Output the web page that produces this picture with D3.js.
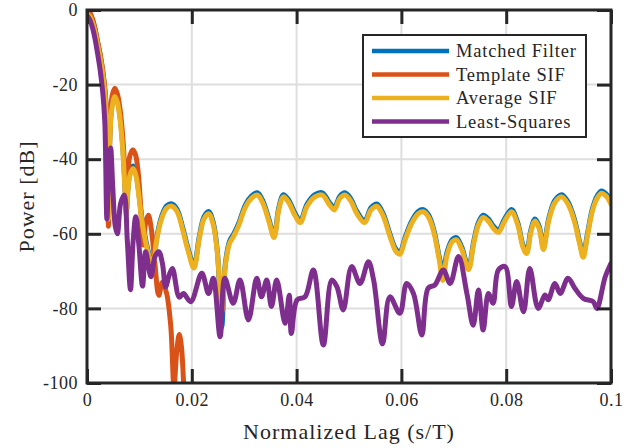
<!DOCTYPE html>
<html>
<head>
<meta charset="utf-8">
<script src="https://cdn.jsdelivr.net/npm/d3@7"></script>
<style>
  body { margin: 0; background: #fff; }
  text { font-family: "Liberation Serif", "Times New Roman", serif; fill: #262626; }
</style>
</head>
<body>
<svg id="chart" width="636" height="448"></svg>
<script>
// ======== Data ========
const seriesNames = ['Matched Filter', 'Template SIF', 'Average SIF', 'Least-Squares'];
const seriesColors = ['#0072BD', '#D95319', '#EDB120', '#7E2F8E'];

const xTicks = [0, 0.02, 0.04, 0.06, 0.08, 0.1];
const xTickLabels = ['0', '0.02', '0.04', '0.06', '0.08', '0.1'];
const yTicks = [-100, -80, -60, -40, -20, 0];
const yTickLabels = ['-100', '-80', '-60', '-40', '-20', '0'];

// lags shared by matched filter and average SIF
const lag = [0, 0.0005, 0.001, 0.0015, 0.002, 0.0025, 0.003, 0.0035, 0.0038, 0.0041,
  0.0044, 0.0048, 0.0053, 0.0058, 0.0063, 0.0068, 0.0072, 0.0075, 0.0078, 0.0082,
  0.0088, 0.0093, 0.0098, 0.0104, 0.0112, 0.012, 0.0126, 0.0133, 0.0142, 0.0152,
  0.0162, 0.0172, 0.0182, 0.0193, 0.0204, 0.0214, 0.0223, 0.0232, 0.0241, 0.0249,
  0.0257, 0.0264, 0.0272, 0.028, 0.029, 0.03, 0.031, 0.0325, 0.0335, 0.0347,
  0.0357, 0.0366, 0.0375, 0.0385, 0.0397, 0.0407, 0.042, 0.0435, 0.0449, 0.0462,
  0.0472, 0.0482, 0.0492, 0.0503, 0.0515, 0.053, 0.0542, 0.0553, 0.0565, 0.0578,
  0.0589, 0.0597, 0.0607, 0.062, 0.0632, 0.0642, 0.0652, 0.0662, 0.0672, 0.0679,
  0.0687, 0.0697, 0.0705, 0.0715, 0.0728, 0.0738, 0.0747, 0.0756, 0.0766, 0.0776,
  0.0785, 0.0797, 0.081, 0.0822, 0.0832, 0.0839, 0.0847, 0.0855, 0.0863, 0.0871,
  0.0881, 0.0893, 0.0906, 0.0918, 0.093, 0.094, 0.0947, 0.0955, 0.0965, 0.0975,
  0.0982, 0.0992, 0.1];

const matchedFilter = [0, -0.8, -2.5, -5, -8.5, -12, -16.5, -23, -32, -55,
  -32, -25, -22.5, -24, -28.5, -36, -46, -54, -48, -43.5,
  -41.8, -43.5, -48, -55, -61.5, -66, -67, -61, -55.5, -52.5,
  -52, -53.5, -58, -64, -68.5, -61, -55.5, -54, -57, -65,
  -85, -68, -62, -60, -57, -53, -50.5, -49, -51, -56,
  -60.5, -53, -49.5, -51, -54.5, -56.5, -52, -49.5, -49, -51.5,
  -53, -50, -49, -50.5, -54, -56.5, -53, -52, -54.5, -60,
  -64, -65, -61, -56.5, -54, -53.5, -55, -59, -66, -70,
  -65, -61.5, -61, -63.5, -69, -62, -57, -55, -56, -58,
  -59, -56, -53.5, -57, -63, -64.5, -59, -56, -58, -63.5,
  -56, -51, -49.5, -51.5, -56, -62, -65.5, -60, -53, -49.5,
  -48.5, -49.5, -51.5];

const averageSIF = [-1, -1.6, -3.2, -5.7, -9.2, -12.8, -17.3, -24, -33, -56,
  -33, -26, -23.2, -24.8, -29.3, -37, -47, -55, -49, -44.3,
  -42.5, -44.2, -48.7, -55.7, -62.2, -66.6, -67.5, -61.6, -56.1, -53.1,
  -52.6, -54.1, -58.6, -64.6, -69.2, -61.6, -56.1, -54.6, -57.6, -65.5,
  -81, -68.5, -62.6, -60.6, -57.6, -53.6, -51.1, -49.6, -51.6, -56.6,
  -61, -53.6, -50.1, -51.6, -55.1, -57, -52.6, -50.1, -49.6, -52.1,
  -53.6, -50.6, -49.6, -51.1, -54.6, -57, -53.6, -52.6, -55.1, -60.6,
  -64.6, -65.5, -61.6, -57.1, -54.6, -54.1, -55.6, -59.6, -66.8, -72.5,
  -65.8, -62.1, -61.6, -64.1, -69.6, -62.6, -57.6, -55.6, -56.6, -58.6,
  -59.6, -56.6, -54.1, -57.6, -63.6, -65.3, -59.6, -56.6, -58.6, -64.2,
  -56.6, -51.6, -50.1, -52.1, -56.6, -62.6, -66.3, -60.6, -53.6, -50.1,
  -49.1, -50.1, -52.1];

const templateLag = [0, 0.0005, 0.001, 0.0015, 0.002, 0.0025, 0.003, 0.0035, 0.0038, 0.0041,
  0.0044, 0.0048, 0.0053, 0.0058, 0.0063, 0.0068, 0.0072, 0.0075, 0.0078, 0.0082,
  0.0088, 0.0093, 0.0098, 0.0103, 0.0107, 0.0112, 0.0117, 0.0122, 0.0129, 0.0137,
  0.0144, 0.0152, 0.016, 0.0166, 0.0171, 0.0176, 0.018, 0.0185, 0.0189];
const templateSIF = [0, -0.6, -2.2, -4.8, -8.3, -11.8, -16.2, -22.5, -31, -58,
  -31, -23, -21, -22.5, -26.5, -33.5, -43, -54, -44, -39,
  -37.5, -39, -44, -54, -63, -57, -55, -58, -67, -76.5,
  -73, -76, -85, -101, -92, -87, -90, -102, -115];

const lsLag = [0, 0.0005, 0.001, 0.0015, 0.002, 0.0025, 0.003, 0.0034, 0.0038, 0.0042,
  0.0045, 0.0049, 0.0054, 0.0058, 0.0064, 0.0071, 0.0077, 0.0083, 0.0088, 0.0093,
  0.0099, 0.0106, 0.0112, 0.0122, 0.013, 0.0137, 0.0144, 0.015, 0.0157, 0.0163,
  0.0176, 0.0184, 0.0198, 0.0219, 0.0232, 0.0241, 0.0254, 0.0263, 0.0279, 0.0292,
  0.0308, 0.0324, 0.0333, 0.0343, 0.0352, 0.0362, 0.0378, 0.0386, 0.039, 0.0401,
  0.0416, 0.0432, 0.0451, 0.0467, 0.0477, 0.0489, 0.0505, 0.0521, 0.0537, 0.0547,
  0.0564, 0.0578, 0.0597, 0.061, 0.0623, 0.0639, 0.0651, 0.0664, 0.068, 0.0693,
  0.0709, 0.0725, 0.0737, 0.0747, 0.0756, 0.0766, 0.0775, 0.0785, 0.0798, 0.081,
  0.082, 0.0833, 0.0845, 0.0861, 0.0874, 0.088, 0.0893, 0.0903, 0.0918, 0.0931,
  0.0947, 0.0966, 0.0973, 0.0989, 0.1];
const leastSquares = [-1.5, -2.5, -4.5, -7.5, -11.5, -16, -22, -30, -56, -40,
  -37, -47, -58, -60, -52, -49.6, -62, -75, -62, -55.4,
  -63, -74, -64.8, -71.5, -66, -64.8, -68, -74.2, -71, -69.3,
  -77, -76, -78.2, -70.6, -76, -71.9, -87.6, -71.9, -78.6, -72.4,
  -83.1, -71.9, -76.9, -72.4, -79.5, -72.4, -84, -76.5, -86.7, -77.7,
  -76.9, -69.7, -89.8, -72.4, -74.2, -80.4, -68.8, -73.3, -67.5, -72.4,
  -89.5, -76.9, -81.3, -73.3, -76, -87.1, -74.6, -73.7, -69.7, -73.3,
  -66.1, -76, -84.5, -75.1, -85.8, -76, -78.6, -69.7, -68.8, -79.5,
  -72.8, -80.9, -69.3, -80, -76.4, -77.7, -73.3, -76, -71.9, -74.6,
  -77.3, -78.2, -80, -71.5, -67.9];

// ======== Layout ========
const margin = {top: 10, right: 25, bottom: 65, left: 87};
const width = 636 - margin.left - margin.right,
    height = 448 - margin.top - margin.bottom;
const axisColor = '#262626';

const svg = d3.select('#chart');
const g = svg.append('g')
    .attr('transform', 'translate(' + margin.left + ',' + margin.top + ')');

const x = d3.scaleLinear().domain([0, 0.1]).range([0, width]);
const y = d3.scaleLinear().domain([-100, 0]).range([height, 0]);

// grid
g.append('g')
    .selectAll('line.vgrid')
    .data(xTicks.slice(1, -1))
    .enter().append('line')
    .attr('x1', d => x(d)).attr('x2', d => x(d))
    .attr('y1', 0).attr('y2', height)
    .attr('stroke', '#dedede').attr('stroke-width', 2);
g.append('g')
    .selectAll('line.hgrid')
    .data(yTicks.slice(1, -1))
    .enter().append('line')
    .attr('x1', 0).attr('x2', width)
    .attr('y1', d => y(d)).attr('y2', d => y(d))
    .attr('stroke', '#dedede').attr('stroke-width', 2);

// curves
g.append('clipPath').attr('id', 'plot-clip')
    .append('rect').attr('width', width).attr('height', height);

const line = d3.line()
    .x(d => x(d[0]))
    .y(d => y(d[1]))
    .curve(d3.curveCatmullRom.alpha(0.5));

const series = [
    d3.zip(lag, matchedFilter),
    d3.zip(templateLag, templateSIF),
    d3.zip(lag, averageSIF),
    d3.zip(lsLag, leastSquares)
];

g.append('g').attr('clip-path', 'url(#plot-clip)')
    .selectAll('path')
    .data(series)
    .enter().append('path')
    .attr('d', line)
    .attr('fill', 'none')
    .attr('stroke', (d, i) => seriesColors[i])
    .attr('stroke-width', 5)
    .attr('stroke-linejoin', 'round')
    .attr('stroke-linecap', 'round');

// axes (ticks point inwards, box on all four sides)
const tickLen = 14;
function styleAxis(sel) {
    sel.select('.domain').remove();
    sel.selectAll('.tick line').attr('stroke', axisColor).attr('stroke-width', 3);
    sel.selectAll('.tick text')
        .attr('font-family', '"Liberation Serif", serif')
        .attr('font-size', 18)
        .attr('letter-spacing', 0.5)
        .attr('fill', axisColor);
}

g.append('g')
    .attr('transform', 'translate(0,' + height + ')')
    .call(d3.axisBottom(x).tickValues(xTicks).tickSize(-tickLen).tickPadding(10)
        .tickFormat((d, i) => xTickLabels[i]))
    .call(styleAxis);
g.append('g')
    .call(d3.axisTop(x).tickValues(xTicks).tickSize(-tickLen).tickFormat(''))
    .call(styleAxis);
g.append('g')
    .call(d3.axisLeft(y).tickValues(yTicks).tickSize(-tickLen).tickPadding(9)
        .tickFormat((d, i) => yTickLabels[i]))
    .call(styleAxis);
g.append('g')
    .attr('transform', 'translate(' + width + ',0)')
    .call(d3.axisRight(y).tickValues(yTicks).tickSize(-tickLen).tickFormat(''))
    .call(styleAxis);

g.append('rect')
    .attr('width', width).attr('height', height)
    .attr('fill', 'none')
    .attr('stroke', axisColor).attr('stroke-width', 3);

// axis labels
g.append('text')
    .attr('x', width / 2).attr('y', height + 56)
    .attr('text-anchor', 'middle')
    .attr('font-size', 22)
    .attr('letter-spacing', 1)
    .text('Normalized Lag (s/T)');
g.append('text')
    .attr('transform', 'translate(' + (-53) + ',' + (height / 2) + ') rotate(-90)')
    .attr('text-anchor', 'middle')
    .attr('font-size', 22)
    .attr('letter-spacing', 1)
    .text('Power [dB]');

// ======== Legend ========
const legend = svg.append('g').attr('transform', 'translate(363,35)');
legend.append('rect')
    .attr('width', 223).attr('height', 102)
    .attr('fill', '#fff')
    .attr('stroke', axisColor).attr('stroke-width', 2);

const rows = legend.selectAll('g.row')
    .data(seriesNames)
    .enter().append('g')
    .attr('transform', (d, i) => 'translate(0,' + (16 + i * 23.5) + ')');
rows.append('line')
    .attr('x1', 9).attr('x2', 86)
    .attr('stroke', (d, i) => seriesColors[i])
    .attr('stroke-width', 4.5);
rows.append('text')
    .attr('x', 93).attr('dy', '0.35em')
    .attr('font-size', 18.5)
    .attr('letter-spacing', 0.8)
    .text(d => d);
</script>
</body>
</html>
